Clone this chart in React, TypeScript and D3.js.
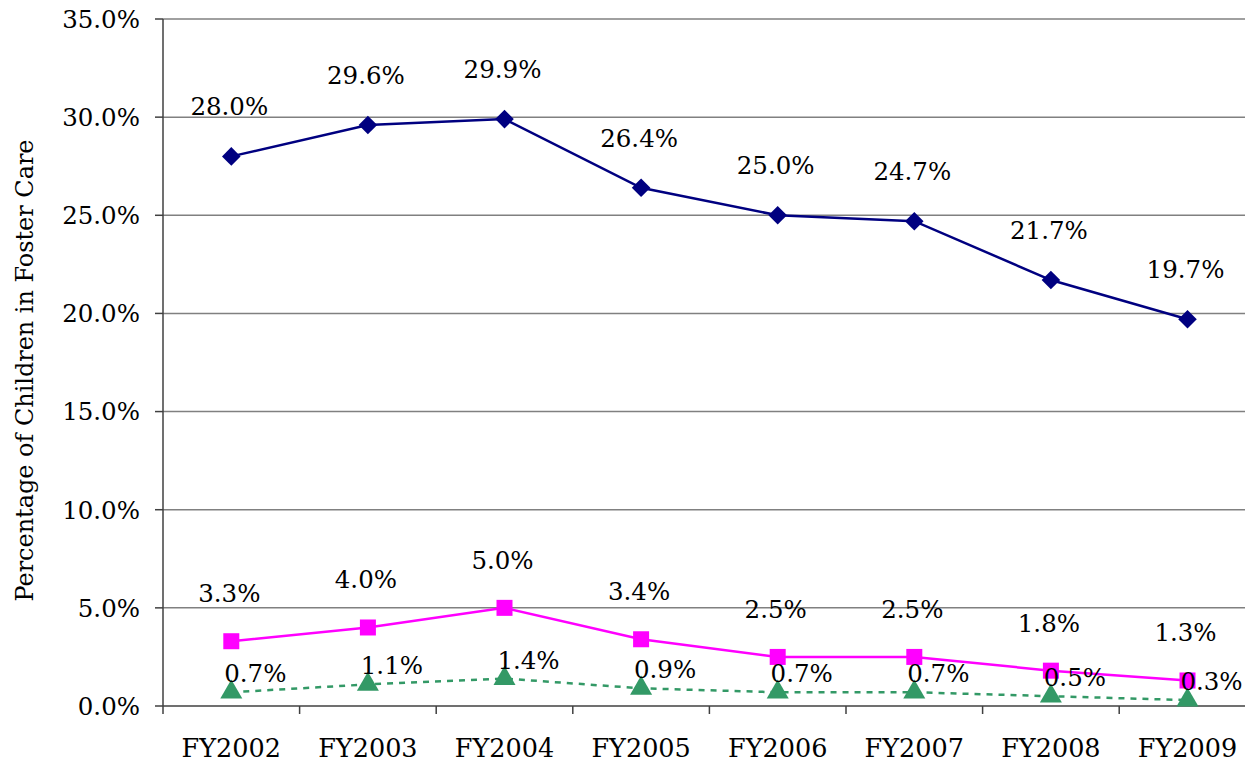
import React, { useEffect, useRef } from "react";
import * as d3 from "d3";

const years = ["FY2002", "FY2003", "FY2004", "FY2005", "FY2006", "FY2007", "FY2008", "FY2009"];
const seriesTop = [28.0, 29.6, 29.9, 26.4, 25.0, 24.7, 21.7, 19.7];
const seriesMid = [3.3, 4.0, 5.0, 3.4, 2.5, 2.5, 1.8, 1.3];
const seriesLow = [0.7, 1.1, 1.4, 0.9, 0.7, 0.7, 0.5, 0.3];
const yTicks = [0, 5, 10, 15, 20, 25, 30, 35];
const yTitle = "Percentage of Children in Foster Care";

// only DejaVu Serif resolves to a real serif face in the sandbox
const FONT = "DejaVu Serif";

const App: React.FC = () => {
  const svgRef = useRef<SVGSVGElement | null>(null);

  useEffect(() => {
    if (!svgRef.current) return;
    const width = 1245;
    const height = 762;
    const left = 163;
    const band = 136.6;
    const top = 19;
    const bottom = 706;

    const svg = d3.select(svgRef.current);
    svg.selectAll("*").remove();
    svg.attr("width", width).attr("height", height);

    const x = d3.scaleBand<string>()
      .domain(years)
      .range([left, left + band * years.length]);
    const cx = (d: string) => (x(d) ?? 0) + x.bandwidth() / 2;
    const y = d3.scaleLinear().domain([0, 35]).range([bottom, top]);

    // gridlines
    svg.append("g")
      .selectAll("line")
      .data(yTicks.filter(t => t > 0))
      .enter()
      .append("line")
      .attr("x1", left).attr("x2", width)
      .attr("y1", d => y(d)).attr("y2", d => y(d))
      .attr("stroke", "#808080")
      .attr("stroke-width", 1.5);

    // y axis
    svg.append("line")
      .attr("x1", left).attr("x2", left)
      .attr("y1", top).attr("y2", bottom + 8)
      .attr("stroke", "#404040").attr("stroke-width", 1.5);
    svg.append("g")
      .selectAll("line")
      .data(yTicks)
      .enter()
      .append("line")
      .attr("x1", left - 8).attr("x2", left)
      .attr("y1", d => y(d)).attr("y2", d => y(d))
      .attr("stroke", "#404040").attr("stroke-width", 1.5);
    svg.append("g")
      .selectAll("text")
      .data(yTicks)
      .enter()
      .append("text")
      .attr("x", 140)
      .attr("y", d => y(d))
      .attr("dy", "0.36em")
      .attr("text-anchor", "end")
      .style("font-family", FONT)
      .style("font-size", "24.5px")
      .text(d => d.toFixed(1) + "%");

    // x axis
    svg.append("line")
      .attr("x1", left).attr("x2", width)
      .attr("y1", bottom).attr("y2", bottom)
      .attr("stroke", "#404040").attr("stroke-width", 1.5);
    svg.append("g")
      .selectAll("line")
      .data(years.slice(1))
      .enter()
      .append("line")
      .attr("x1", d => x(d) ?? 0).attr("x2", d => x(d) ?? 0)
      .attr("y1", bottom).attr("y2", bottom + 8)
      .attr("stroke", "#404040").attr("stroke-width", 1.5);
    svg.append("g")
      .selectAll("text")
      .data(years)
      .enter()
      .append("text")
      .attr("x", d => cx(d))
      .attr("y", 757)
      .attr("text-anchor", "middle")
      .style("font-family", FONT)
      .style("font-size", "25.5px")
      .text(d => d);

    // y title
    svg.append("text")
      .attr("transform", `translate(33,${(top + bottom) / 2 + 8}) rotate(-90)`)
      .attr("text-anchor", "middle")
      .attr("textLength", 462)
      .attr("lengthAdjust", "spacingAndGlyphs")
      .style("font-family", FONT)
      .style("font-size", "25px")
      .text(yTitle);

    const line = d3.line<number>()
      .x((_, i) => cx(years[i]))
      .y(d => y(d));

    // lowest series: dashed green with triangles
    svg.append("path")
      .attr("d", line(seriesLow))
      .attr("fill", "none")
      .attr("stroke", "#339966")
      .attr("stroke-width", 2.5)
      .attr("stroke-dasharray", "6,6");
    svg.append("g")
      .selectAll("path")
      .data(seriesLow)
      .enter()
      .append("path")
      .attr("d", d3.symbol().type(d3.symbolTriangle).size(210)())
      .attr("transform", (d, i) => `translate(${cx(years[i])},${y(d)})`)
      .attr("fill", "#339966");

    // middle series: magenta squares
    svg.append("path")
      .attr("d", line(seriesMid))
      .attr("fill", "none")
      .attr("stroke", "#FF00FF")
      .attr("stroke-width", 2.5);
    svg.append("g")
      .selectAll("rect")
      .data(seriesMid)
      .enter()
      .append("rect")
      .attr("x", (d, i) => cx(years[i]) - 8)
      .attr("y", d => y(d) - 8)
      .attr("width", 16).attr("height", 16)
      .attr("fill", "#FF00FF");

    // top series: navy diamonds
    svg.append("path")
      .attr("d", line(seriesTop))
      .attr("fill", "none")
      .attr("stroke", "#000080")
      .attr("stroke-width", 2.5);
    svg.append("g")
      .selectAll("path")
      .data(seriesTop)
      .enter()
      .append("path")
      .attr("d", d3.symbol().type(d3.symbolDiamond2).size(220)())
      .attr("transform", (d, i) => `translate(${cx(years[i])},${y(d)})`)
      .attr("fill", "#000080");

    // data labels
    const addLabels = (vals: number[], dx: number, dy: number) => {
      svg.append("g")
        .selectAll("text")
        .data(vals)
        .enter()
        .append("text")
        .attr("x", (d, i) => cx(years[i]) + dx)
        .attr("y", d => y(d) + dy)
        .attr("text-anchor", "middle")
        .style("font-family", FONT)
        .style("font-size", "24.5px")
        .text(d => d.toFixed(1) + "%");
    };
    addLabels(seriesTop, -2, -41);
    addLabels(seriesMid, -2, -39);
    addLabels(seriesLow, 24, -10);
  }, []);

  return <svg ref={svgRef} style={{ position: "absolute", left: 0, top: 0 }} />;
};

export default App;
